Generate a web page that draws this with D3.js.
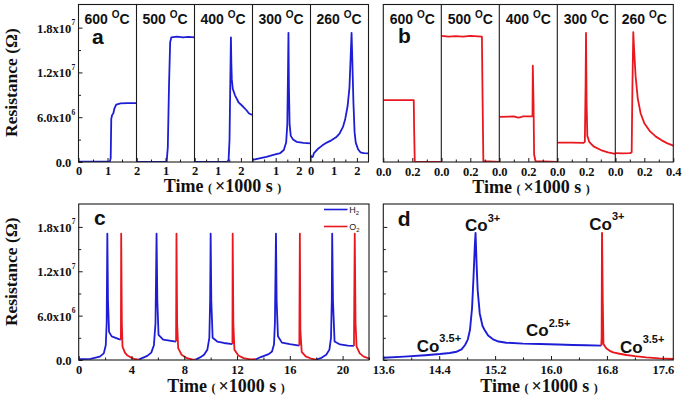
<!DOCTYPE html>
<html><head><meta charset="utf-8">
<script src="https://cdn.jsdelivr.net/npm/d3@7"></script>
<style>body{margin:0;background:#fff} svg{display:block} text{white-space:pre}</style>
</head><body><svg id="chart" width="685" height="400"></svg>
<script>
// ---------------- DATA ----------------
const temps = ['600', '500', '400', '300', '260'];
const aDomains = [2, 2, 2.5, 2.5, 2.5];                 // ×1000 s per sub-panel (a)
const aTickLabels = [[0, 1, 2], [1, 2], [1, 2], [1, 2], [0, 1, 2]];
const bDomain = 0.4;                                     // ×1000 s per sub-panel (b)
const bTickLabels = [[0, 0.2], [0, 0.2], [0, 0.2], [0, 0.2], [0, 0.2, 0.4]];
const yDomain = [0, 21.1];                               // ×10^6 Ω
const yTicks = [0, 6, 12, 18];
const yTickMant = ['0.0', '6.0x10', '1.2x10', '1.8x10'];
const yTickExp = ['', '6', '7', '7'];
const cTicks = [0, 4, 8, 12, 16, 20];
const dTicks = [13.6, 14.4, 15.2, 16.0, 16.8, 17.6];
const cDomain = [0, 22];
const dDomain = [13.6, 17.75];

// panel a: H2 response (t ×1000 s, R ×10^6 Ω)
const a600 = [[0,0.05],[1.08,0.05],[1.11,0.5],[1.13,5.8],[1.16,6.3],[1.2,6.5],[1.24,7.2],[1.3,7.7],[1.45,7.85],[1.7,7.9],[2,7.9]];
const a500 = [[0,0.02],[1.04,0.02],[1.08,2],[1.12,10],[1.16,16],[1.2,16.7],[1.4,16.8],[1.6,16.7],[1.8,16.75],[2,16.7]];
const a400 = [[0,0.02],[1.42,0.02],[1.47,0.3],[1.51,3],[1.54,10],[1.57,16.7],[1.59,13],[1.61,11],[1.65,9.8],[1.75,8.9],[1.9,8],[2.1,7.4],[2.25,6.9],[2.35,6.5],[2.5,6.3]];
const a300 = [[0,0.3],[0.1,0.35],[0.3,0.5],[0.6,0.7],[0.9,0.95],[1.2,1.2],[1.35,1.6],[1.45,2.6],[1.5,5],[1.53,12],[1.55,17.3],[1.57,10],[1.6,5],[1.65,3.5],[1.75,3],[1.9,2.7],[2.2,2.55],[2.5,2.5]];
const a260 = [[0,0.9],[0.05,0.65],[0.1,0.7],[0.15,1.2],[0.3,1.7],[0.5,2.2],[0.7,2.6],[0.9,2.9],[1.1,3.3],[1.25,3.8],[1.4,4.7],[1.5,5.8],[1.6,7.5],[1.68,10],[1.73,14],[1.77,17.3],[1.8,14],[1.85,8],[1.9,4],[1.95,2.6],[2.05,1.7],[2.15,1.3],[2.3,1.2],[2.5,1.15]];
// panel b: O2 response
const b600 = [[0,8.3],[0.1,8.3],[0.21,8.3],[0.213,4],[0.217,0.05],[0.4,0.03]];
const b500 = [[0,16.9],[0.05,16.8],[0.1,16.85],[0.15,16.8],[0.2,16.9],[0.28,16.8],[0.285,8],[0.29,0.1],[0.4,0.03]];
const b400 = [[0,6.05],[0.1,6.1],[0.13,5.95],[0.15,6.0],[0.16,6.1],[0.225,6.1],[0.229,6.2],[0.231,12.9],[0.236,8],[0.24,1],[0.25,0.1],[0.4,0.03]];
const b300 = [[0,2.6],[0.1,2.6],[0.18,2.55],[0.19,2.7],[0.195,10],[0.198,17.3],[0.202,8],[0.207,3.5],[0.22,2.7],[0.25,2.1],[0.3,1.6],[0.35,1.3],[0.4,1.1]];
const b260 = [[0,1.2],[0.05,1.15],[0.1,1.2],[0.113,1.3],[0.118,10],[0.124,17.4],[0.13,15],[0.14,11.5],[0.155,8.5],[0.175,6.5],[0.2,5.2],[0.24,4.1],[0.28,3.4],[0.32,2.9],[0.36,2.5],[0.4,2.2]];
// panel c: cycling
const cH2 = [
  [[0,0.1],[0.9,0.15],[1.6,0.45],[1.9,0.9],[2.05,2.0],[2.12,5],[2.17,17.1],[2.22,8],[2.3,3.8],[2.5,3.2],[2.8,3.0],[3.1,2.8],[3.2,2.75]],
  [[4.55,0.05],[4.8,0.25],[5.2,0.55],[5.5,1.0],[5.7,2.0],[5.82,5],[5.9,17.1],[5.96,8],[6.05,3.4],[6.4,2.75],[7.0,2.6],[7.38,2.5]],
  [[8.86,0.05],[9.2,0.35],[9.5,0.7],[9.75,1.4],[9.9,3],[9.96,8],[10.0,17.1],[10.05,8],[10.15,3],[10.5,2.5],[11.0,2.3],[11.65,2.15]],
  [[13.43,0.1],[13.8,0.4],[14.4,0.8],[14.65,1.15],[14.8,2.1],[14.87,5],[14.95,17.1],[15.0,8],[15.1,3.2],[15.4,2.35],[16.0,2.15],[16.72,1.95]],
  [[18.0,0.05],[18.4,0.3],[18.76,0.7],[19.0,1.4],[19.12,3],[19.18,8],[19.21,17.1],[19.27,8],[19.39,2.5],[19.8,2.1],[20.4,1.95],[20.86,1.9]]
];
const cO2 = [
  [[3.2,2.75],[3.22,17.1],[3.27,5],[3.32,1.8],[3.5,1.0],[3.7,0.6],[4.0,0.3],[4.3,0.1],[4.55,0.05]],
  [[7.38,2.5],[7.41,17.1],[7.46,5],[7.54,1.6],[7.8,0.7],[8.2,0.25],[8.6,0.08],[8.86,0.05]],
  [[11.65,2.15],[11.67,17.1],[11.72,5],[11.8,1.4],[12.1,0.6],[12.5,0.25],[13.0,0.08],[13.43,0.1]],
  [[16.72,1.95],[16.76,17.1],[16.8,4],[16.9,1.1],[17.2,0.5],[17.6,0.2],[18.0,0.05]],
  [[20.86,1.9],[20.92,17.1],[20.98,5],[21.06,1.8],[21.3,0.9],[21.6,0.45],[22.0,0.2]]
];
// panel d: one cycle zoomed
const dH2 = [[13.6,0.31],[13.9,0.45],[14.2,0.65],[14.41,0.81],[14.55,0.95],[14.65,1.12],[14.72,1.45],[14.77,2.03],[14.81,2.8],[14.84,4.05],[14.87,7],[14.89,11],[14.91,15.5],[14.92,17.2],[14.935,13],[14.95,9.5],[14.98,6.3],[15.02,4.6],[15.05,4.05],[15.1,3.3],[15.17,2.8],[15.25,2.5],[15.36,2.34],[15.6,2.22],[15.84,2.16],[16.1,2.1],[16.31,2.03],[16.5,2.0],[16.72,1.94]];
const dO2 = [[16.72,1.94],[16.725,3],[16.73,17.2],[16.74,8],[16.75,2.16],[16.79,1.58],[16.84,1.25],[16.89,1.04],[16.98,0.85],[17.08,0.68],[17.2,0.52],[17.36,0.36],[17.55,0.22],[17.75,0.14]];
const dLabels = [
  {main: 'Co', sup: '3+', key: 'peakH2'},
  {main: 'Co', sup: '3+', key: 'peakO2'},
  {main: 'Co', sup: '3.5+', key: 'left'},
  {main: 'Co', sup: '2.5+', key: 'mid'},
  {main: 'Co', sup: '3.5+', key: 'right'}
];

// ---------------- LAYOUT ----------------
const BLUE = '#1d1dd6', RED = '#e8181e', INK = '#1a1a1a';
const SERIF = "'Liberation Serif','Times New Roman',serif";
const SANS = "'Liberation Sans',Arial,sans-serif";
const A = {x0: 78.5, x1: 368.5, y0: 4.5, y1: 162};
const B = {x0: 383.3, x1: 673.3, y0: 4.5, y1: 162};
const C = {x0: 78.7, x1: 369, y0: 204, y1: 360};
const D = {x0: 383.3, x1: 673.3, y0: 204, y1: 360};
const svg = d3.select('#chart');
const defs = svg.append('defs');
let clipN = 0;

function clip(x0, y0, x1, y1) {
  const id = 'clip' + (clipN++);
  defs.append('clipPath').attr('id', id).append('rect')
    .attr('x', x0).attr('y', y0 - 2).attr('width', x1 - x0).attr('height', y1 - y0 + 2);
  return id;
}
function drawLine(data, x, y, color, clipId, w) {
  svg.append('path').datum(data)
    .attr('d', d3.line().x(d => x(d[0])).y(d => y(d[1])))
    .attr('fill', 'none').attr('stroke', color).attr('stroke-width', w || 1.7)
    .attr('stroke-linejoin', 'round').attr('clip-path', `url(#${clipId})`);
}
function styleTickText(g, size) {
  g.select('.domain').remove();
  g.selectAll('line').attr('stroke', INK);
  g.selectAll('text').attr('font-family', SERIF).attr('font-weight', 'bold')
    .attr('font-size', size).attr('fill', '#111');
  g.selectAll('text').filter(function() { return !this.textContent; }).remove();
}
function xAxis(x, yPos, majors, fmt, minors, pad) {
  const g = svg.append('g').attr('transform', `translate(0,${yPos})`)
    .call(d3.axisBottom(x).tickValues(majors).tickSizeInner(-4).tickSizeOuter(0).tickPadding(pad).tickFormat(fmt));
  styleTickText(g, 12.5);
  if (minors && minors.length) {
    const gm = svg.append('g').attr('transform', `translate(0,${yPos})`)
      .call(d3.axisBottom(x).tickValues(minors).tickSizeInner(-2.5).tickSizeOuter(0).tickFormat(''));
    styleTickText(gm, 12);
  }
}
function yAxis(y, xPos, withLabels) {
  const g = svg.append('g').attr('transform', `translate(${xPos},0)`)
    .call(d3.axisLeft(y).tickValues(yTicks).tickSizeInner(-4).tickSizeOuter(0).tickPadding(7.2)
      .tickFormat((d, i) => withLabels ? yTickMant[i] : ''));
  styleTickText(g, 12.5);
  g.selectAll('text').attr('dy', '0.36em');
  if (withLabels) {
    g.selectAll('.tick').each(function(d, i) {
      if (!yTickExp[i]) return;
      d3.select(this).append('text').attr('x', -6.9).attr('y', -3)
        .attr('font-family', SERIF).attr('font-weight', 'bold').attr('font-size', 7.5)
        .attr('fill', '#111').attr('text-anchor', 'start').text(yTickExp[i]);
    });
  }
  const gm = svg.append('g').attr('transform', `translate(${xPos},0)`)
    .call(d3.axisLeft(y).tickValues([3, 9, 15]).tickSizeInner(-2.5).tickSizeOuter(0).tickFormat(''));
  styleTickText(gm, 12);
}
function frame(p) {
  svg.append('rect').attr('x', p.x0).attr('y', p.y0).attr('width', p.x1 - p.x0).attr('height', p.y1 - p.y0)
    .attr('fill', 'none').attr('stroke', INK).attr('stroke-width', 1.1);
}
function tempLabel(cx, y, t) {
  const tx = svg.append('text').attr('x', cx).attr('y', y).attr('text-anchor', 'middle')
    .attr('font-family', SANS).attr('font-weight', 'bold').attr('font-size', 14).attr('fill', '#111');
  tx.append('tspan').text(t + ' ');
  tx.append('tspan').attr('font-size', 10).attr('dy', -5.5).text('O');
  tx.append('tspan').attr('dy', 5.5).text('C');
}
function letter(ch, x, y) {
  svg.append('text').attr('x', x).attr('y', y).attr('font-family', SANS).attr('font-weight', 'bold')
    .attr('font-size', 21).attr('fill', '#111').text(ch);
}
function xTitle(cx, y) {
  const tx = svg.append('text').attr('x', cx).attr('y', y).attr('text-anchor', 'middle')
    .attr('font-family', SERIF).attr('font-weight', 'bold').attr('fill', '#111');
  tx.append('tspan').attr('font-size', 18).text('Time ');
  tx.append('tspan').attr('font-size', 12).text('( ');
  tx.append('tspan').attr('font-size', 18).text('\u00d71000 s ');
  tx.append('tspan').attr('font-size', 12).text(')');
}
function yTitle(x, cy) {
  svg.append('text').attr('transform', `translate(${x},${cy}) rotate(-90)`).attr('text-anchor', 'middle')
    .attr('font-family', SERIF).attr('font-weight', 'bold').attr('font-size', 17.5).attr('fill', '#111')
    .text('Resistance (\u03a9)');
}

// ---------------- PANEL A ----------------
const aSeries = [a600, a500, a400, a300, a260];
const yA = d3.scaleLinear().domain(yDomain).range([A.y1, A.y0]);
const subW = (A.x1 - A.x0) / 5;
aSeries.forEach((s, i) => {
  const sx0 = A.x0 + i * subW, sx1 = sx0 + subW;
  const x = d3.scaleLinear().domain([0, aDomains[i]]).range([sx0, sx1]);
  drawLine(s, x, yA, BLUE, clip(sx0, A.y0, sx1, A.y1), 1.8);
  const labs = aTickLabels[i];
  xAxis(x, A.y1, [0, 1, 2], d => labs.includes(d) ? String(d) : '', [0.5, 1.5], 4.6);
  tempLabel((sx0 + sx1) / 2 - 0.5, 23.5, temps[i]);
  if (i > 0) svg.append('line').attr('x1', sx0).attr('x2', sx0).attr('y1', A.y0).attr('y2', A.y1)
    .attr('stroke', INK).attr('stroke-width', 1.1);
});
yAxis(yA, A.x0, true);
frame(A);
letter('a', 92, 44);
yTitle(17, 82.5);
xTitle(222.5, 192);

// ---------------- PANEL B ----------------
const bSeries = [b600, b500, b400, b300, b260];
const yB = d3.scaleLinear().domain(yDomain).range([B.y1, B.y0]);
const subWB = (B.x1 - B.x0) / 5;
bSeries.forEach((s, i) => {
  const sx0 = B.x0 + i * subWB, sx1 = sx0 + subWB;
  const x = d3.scaleLinear().domain([0, bDomain]).range([sx0, sx1]);
  drawLine(s, x, yB, RED, clip(sx0, B.y0, sx1, B.y1), 1.8);
  const labs = bTickLabels[i];
  xAxis(x, B.y1, [0, 0.2, 0.4], d => labs.includes(d) ? d3.format('.1f')(d) : '', [0.1, 0.3], 5.3);
  tempLabel((sx0 + sx1) / 2, 23.5, temps[i]);
  if (i > 0) svg.append('line').attr('x1', sx0).attr('x2', sx0).attr('y1', B.y0).attr('y2', B.y1)
    .attr('stroke', INK).attr('stroke-width', 1.1);
});
frame(B);
letter('b', 398, 43);
xTitle(531, 193);

// ---------------- PANEL C ----------------
const xC = d3.scaleLinear().domain(cDomain).range([C.x0, C.x1]);
const yC = d3.scaleLinear().domain(yDomain).range([C.y1, C.y0]);
const clipC = clip(C.x0, C.y0, C.x1, C.y1);
cH2.forEach(s => drawLine(s, xC, yC, BLUE, clipC, 1.8));
cO2.forEach(s => drawLine(s, xC, yC, RED, clipC, 1.8));
xAxis(xC, C.y1, cTicks, d3.format('d'), [2, 6, 10, 14, 18, 22], 5.6);
yAxis(yC, C.x0, true);
frame(C);
letter('c', 94, 225);
yTitle(17, 271.7);
xTitle(226, 392);
// legend
const legend = [{name: 'H', color: BLUE, y: 209.5}, {name: 'O', color: RED, y: 226.5}];
legend.forEach(l => {
  svg.append('line').attr('x1', 324).attr('x2', 347.5).attr('y1', l.y).attr('y2', l.y)
    .attr('stroke', l.color).attr('stroke-width', 1.6);
  const t = svg.append('text').attr('x', 349.3).attr('y', l.y + 3.2).attr('font-family', SANS)
    .attr('font-size', 9).attr('fill', '#222');
  t.append('tspan').text(l.name);
  t.append('tspan').attr('font-size', 6).attr('dy', 2.5).text('2');
});

// ---------------- PANEL D ----------------
const xD = d3.scaleLinear().domain(dDomain).range([D.x0, D.x1]);
const yD = d3.scaleLinear().domain(yDomain).range([D.y1, D.y0]);
const clipD = clip(D.x0, D.y0, D.x1, D.y1);
drawLine(dH2, xD, yD, BLUE, clipD, 1.9);
drawLine(dO2, xD, yD, RED, clipD, 1.9);
xAxis(xD, D.y1, dTicks, d3.format('.1f'), [14.0, 14.8, 15.6, 16.4, 17.2], 5.6);
yAxis(yD, D.x0, false);
frame(D);
letter('d', 397.7, 226);
xTitle(539, 392);
const labelPos = {peakH2: [465, 231], peakO2: [589.3, 229.5], left: [416.7, 351.7], mid: [526, 336], right: [620, 352.7]};
dLabels.forEach(l => {
  const p = labelPos[l.key];
  const t = svg.append('text').attr('x', p[0]).attr('y', p[1]).attr('font-family', SANS)
    .attr('font-weight', 'bold').attr('font-size', 17).attr('fill', '#111');
  t.append('tspan').text(l.main);
  t.append('tspan').attr('font-size', 11).attr('dy', -9.5).text(l.sup);
});
</script>
</body></html>
